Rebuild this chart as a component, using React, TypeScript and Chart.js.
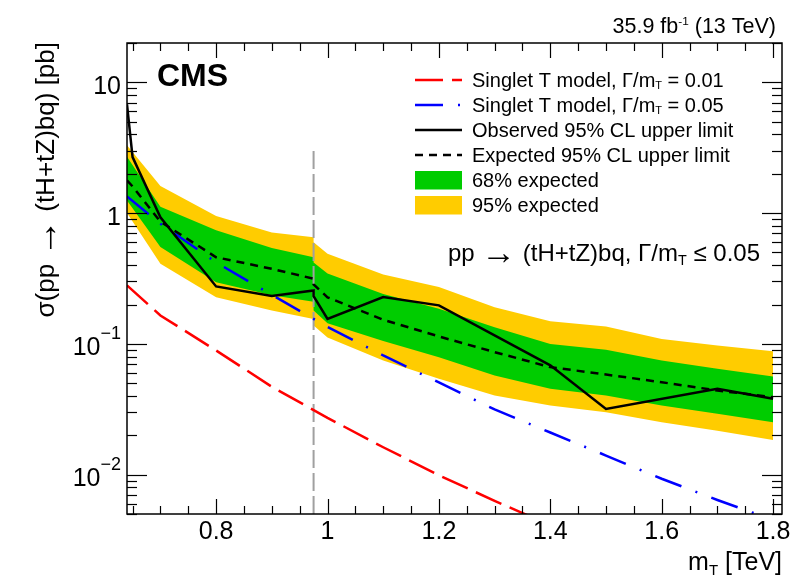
import { useEffect, useRef } from 'react';
import { Chart, registerables } from 'chart.js';

Chart.register(...registerables);

// ---------------- data ----------------
const bandMass = [0.64, 0.7, 0.8, 0.9, 0.975, 0.975, 1.0, 1.1, 1.2, 1.3, 1.4, 1.5, 1.6, 1.7, 1.8];
const band95Up = [3.3, 1.61, 0.95, 0.71, 0.655, 0.6, 0.489, 0.34, 0.272, 0.191, 0.149, 0.136, 0.109, 0.097, 0.088];
const band68Up = [2.7, 1.12, 0.74, 0.54, 0.46, 0.42, 0.345, 0.241, 0.186, 0.134, 0.1, 0.09, 0.0746, 0.0645, 0.0564];
const band68Down = [1.25, 0.55, 0.296, 0.235, 0.21, 0.18, 0.144, 0.105, 0.079, 0.0573, 0.0453, 0.0403, 0.0338, 0.0292, 0.0252];
const band95Down = [1.0, 0.41, 0.227, 0.18, 0.155, 0.138, 0.112, 0.0746, 0.054, 0.0403, 0.0338, 0.03, 0.0252, 0.0217, 0.0184];

const expMass = [0.64, 0.65, 0.7, 0.8, 0.9, 0.975, 0.975, 1.0, 1.1, 1.2, 1.3, 1.4, 1.5, 1.6, 1.7, 1.8];
const expLimit = [1.78, 1.6, 0.86, 0.46, 0.375, 0.315, 0.285, 0.227, 0.153, 0.114, 0.0865, 0.0664, 0.0583, 0.0509, 0.044, 0.0391];

const obsMass = [0.64, 0.65, 0.7, 0.8, 0.9, 0.975, 0.975, 1.0, 1.1, 1.2, 1.4, 1.5, 1.7, 1.8];
const obsLimit = [6.8, 2.68, 0.93, 0.275, 0.232, 0.256, 0.232, 0.155, 0.228, 0.197, 0.0685, 0.0318, 0.0453, 0.038];

const w001Mass = [0.64, 0.7, 0.8, 0.9, 1.0, 1.1, 1.2, 1.3, 1.4];
const w001Xsec = [0.28, 0.165, 0.089, 0.047, 0.0272, 0.0162, 0.0099, 0.0063, 0.0041];

const w005Mass = [0.64, 0.7, 0.8, 0.9, 1.0, 1.1, 1.2, 1.3, 1.4, 1.5, 1.6, 1.7, 1.8];
const w005Xsec = [1.34, 0.83, 0.42, 0.237, 0.135, 0.0815, 0.0507, 0.0315, 0.021, 0.014, 0.0093, 0.0064, 0.0045];

const switchMass = [0.975, 0.975];
const switchRange = [0.005, 3.0];

const xTickValues = [0.8, 1.0, 1.2, 1.4, 1.6, 1.8];
const xTickLabels = ['0.8', '1', '1.2', '1.4', '1.6', '1.8'];
const yTickValues = [10, 1, 0.1, 0.01];
const yTickLabels = ['10', '1', '10^{\u22121}', '10^{\u22122}'];

const legendLabels = [
  'Singlet T model, \u0393/m_T = 0.01',
  'Singlet T model, \u0393/m_T = 0.05',
  'Observed 95% CL upper limit',
  'Expected 95% CL upper limit',
  '68% expected',
  '95% expected',
];

const yTitle = '\u03c3(pp \u2192 (tH+tZ)bq) [pb]';
const xTitle = 'm_T [TeV]';
const processLabel = 'pp \u2192 (tH+tZ)bq, \u0393/m_T \u2264 0.05';
const lumiLabel = '35.9 fb^{-1} (13 TeV)';
const expLabel = 'CMS';

// ---------------- styles ----------------
const FONT = '"Liberation Sans", Arial, Helvetica, sans-serif';
const YELLOW = '#FFCC00';
const GREEN = '#00CC00';
const RED = '#FF0000';
const BLUE = '#0000FF';
const GRAY = '#A0A0A0';
const DASH_RED = [28, 9];
const DASH_BLUE = [28, 15, 2, 15];
const DASH_EXP = [8, 6];
const DASH_GRAY = [18, 5];

const pts = (xs: number[], ys: number[]) => xs.map((x, i) => ({ x, y: ys[i] }));

type Seg = { t: string; k: number };
function parseRich(s: string): Seg[] {
  const segs: Seg[] = [];
  let buf = '';
  const flush = () => { if (buf) segs.push({ t: buf, k: 0 }); buf = ''; };
  for (let i = 0; i < s.length; i++) {
    const c = s[i];
    if (c === '_') {
      flush();
      segs.push({ t: s[i + 1], k: -1 });
      i++;
    } else if (c === '^' && s[i + 1] === '{') {
      flush();
      const j = s.indexOf('}', i);
      segs.push({ t: s.slice(i + 2, j), k: 1 });
      i = j;
    } else if (c === '\u2192') {
      flush();
      segs.push({ t: c, k: 2 });
    } else buf += c;
  }
  flush();
  return segs;
}

type RichOpt = { supScale?: number; supDy?: number; subScale?: number; subDy?: number; weight?: string };
function drawRich(ctx: CanvasRenderingContext2D, s: string, x: number, y: number, size: number, align: string, o: RichOpt = {}) {
  const supScale = o.supScale ?? 0.6, supDy = o.supDy ?? -0.4, subScale = o.subScale ?? 0.62, subDy = o.subDy ?? 0.15;
  const weight = o.weight ?? 'normal';
  const segs = parseRich(s);
  const scaleFor = (k: number) => (k === 0 ? 1 : k === 1 ? supScale : k === -1 ? subScale : 1.45);
  const fontFor = (k: number) => `${weight} ${size * scaleFor(k)}px ${FONT}`;
  let w = 0;
  for (const sg of segs) { ctx.font = fontFor(sg.k); w += ctx.measureText(sg.t).width; }
  let cx = align === 'right' ? x - w : align === 'center' ? x - w / 2 : x;
  ctx.textAlign = 'left';
  ctx.textBaseline = 'alphabetic';
  for (const sg of segs) {
    ctx.font = fontFor(sg.k);
    const dy = sg.k === -1 ? size * subDy : sg.k === 1 ? size * supDy : sg.k === 2 ? size * 0.13 : 0;
    ctx.fillText(sg.t, cx, y + dy);
    cx += ctx.measureText(sg.t).width;
  }
}

function line(ctx: CanvasRenderingContext2D, x1: number, y1: number, x2: number, y2: number) {
  ctx.beginPath(); ctx.moveTo(x1, y1); ctx.lineTo(x2, y2); ctx.stroke();
}

const decorPlugin = {
  id: 'decor',
  beforeDraw(chart: any) {
    const ctx = chart.ctx;
    ctx.save(); ctx.fillStyle = '#fff'; ctx.fillRect(0, 0, chart.width, chart.height); ctx.restore();
  },
  afterDraw(chart: any) {
    const ctx: CanvasRenderingContext2D = chart.ctx;
    const xs = chart.scales.x, ys = chart.scales.y;
    const { left, right, top, bottom } = chart.chartArea;
    ctx.save();
    ctx.fillStyle = '#000';
    ctx.strokeStyle = '#000';
    ctx.setLineDash([]);
    // x ticks
    ctx.lineWidth = 1.2;
    for (let i = 13; i <= 36; i++) {
      const v = i * 0.05;
      const px = Math.round(xs.getPixelForValue(v)) + 0.5;
      const len = i % 4 === 0 ? 15 : 8;
      line(ctx, px, bottom, px, bottom - len);
      line(ctx, px, top, px, top + len);
    }
    // y ticks
    for (let d = -3; d <= 1; d++) {
      for (let k = 1; k <= 9; k++) {
        const v = k * Math.pow(10, d);
        if (v < 0.005 - 1e-12 || v > 20 + 1e-9) continue;
        const py = Math.round(ys.getPixelForValue(v)) + 0.5;
        const len = k === 1 ? 20 : 10;
        line(ctx, left, py, left + len, py);
        line(ctx, right, py, right - len, py);
      }
    }
    // frame
    ctx.lineWidth = 1.5;
    ctx.strokeRect(left, top, right - left, bottom - top);
    // x tick labels
    xTickValues.forEach((v, i) => {
      drawRich(ctx, xTickLabels[i], xs.getPixelForValue(v), bottom + 25, 25, 'center');
    });
    // y tick labels
    yTickValues.forEach((v, i) => {
      drawRich(ctx, yTickLabels[i], left - 6, ys.getPixelForValue(v) + 11.5, 25, 'right', { supScale: 0.72, supDy: -0.66 });
    });
    // axis titles
    drawRich(ctx, xTitle, right, 570, 25, 'right', { subScale: 0.6, subDy: 0.2 });
    ctx.save();
    ctx.translate(54, top - 1);
    ctx.rotate(-Math.PI / 2);
    drawRich(ctx, yTitle, 0, 0, 26, 'right');
    ctx.restore();
    // CMS + lumi
    drawRich(ctx, expLabel, 157, 86, 32, 'left', { weight: 'bold' });
    drawRich(ctx, lumiLabel, 776, 33, 21.5, 'right', { supScale: 0.55, supDy: -0.36 });
    // process label
    drawRich(ctx, processLabel, 760, 261, 24, 'right', { subScale: 0.6, subDy: 0.15 });
    // legend
    const lx1 = 415, lx2 = 462, tx = 472;
    const rows = [80, 105, 130, 155, 180, 205];
    const styles = [
      { c: RED, d: DASH_RED }, { c: BLUE, d: DASH_BLUE }, { c: '#000', d: [] as number[] }, { c: '#000', d: DASH_EXP },
    ];
    styles.forEach((s, i) => {
      ctx.strokeStyle = s.c; ctx.lineWidth = 2.5; ctx.setLineDash(s.d);
      line(ctx, lx1, rows[i], lx2, rows[i]);
    });
    ctx.setLineDash([]);
    ctx.fillStyle = GREEN; ctx.fillRect(lx1, rows[4] - 9, lx2 - lx1, 18.5);
    ctx.fillStyle = YELLOW; ctx.fillRect(lx1, rows[5] - 9, lx2 - lx1, 18.5);
    ctx.fillStyle = '#000';
    legendLabels.forEach((t, i) => drawRich(ctx, t, tx, rows[i] + 7, 20, 'left', { subScale: 0.55, subDy: 0.1 }));
    ctx.restore();
  },
};

export default function App() {
  const ref = useRef<HTMLCanvasElement>(null);
  useEffect(() => {
    if (!ref.current) return;
    const common = { pointRadius: 0, pointHoverRadius: 0, tension: 0, clip: 0 };
    const chart = new Chart(ref.current, {
      type: 'line',
      data: {
        datasets: [
          { ...common, label: '95% up', data: pts(bandMass, band95Up), borderWidth: 0, borderColor: YELLOW, backgroundColor: YELLOW, fill: '+1', order: 20 },
          { ...common, label: '95% down', data: pts(bandMass, band95Down), borderWidth: 0, borderColor: YELLOW, backgroundColor: YELLOW, fill: false, order: 19 },
          { ...common, label: '68% up', data: pts(bandMass, band68Up), borderWidth: 0, borderColor: GREEN, backgroundColor: GREEN, fill: '+1', order: 18 },
          { ...common, label: '68% down', data: pts(bandMass, band68Down), borderWidth: 0, borderColor: GREEN, backgroundColor: GREEN, fill: false, order: 17 },
          { ...common, label: 'switch', data: pts(switchMass, switchRange), borderWidth: 2, borderColor: GRAY, borderDash: DASH_GRAY, fill: false, order: 6 },
          { ...common, label: legendLabels[0], data: pts(w001Mass, w001Xsec), borderWidth: 2.5, borderColor: RED, borderDash: DASH_RED, fill: false, order: 5 },
          { ...common, label: legendLabels[1], data: pts(w005Mass, w005Xsec), borderWidth: 2.5, borderColor: BLUE, borderDash: DASH_BLUE, fill: false, order: 4 },
          { ...common, label: legendLabels[3], data: pts(expMass, expLimit), borderWidth: 2.5, borderColor: '#000', borderDash: DASH_EXP, fill: false, order: 3 },
          { ...common, label: legendLabels[2], data: pts(obsMass, obsLimit), borderWidth: 2.5, borderColor: '#000', fill: false, order: 2 },
        ] as any,
      },
      options: {
        animation: false,
        responsive: false,
        devicePixelRatio: 1,
        layout: { padding: { left: 127, right: 22, top: 43, bottom: 65 } },
        scales: {
          x: { type: 'linear', min: 0.64, max: 1.816, display: false },
          y: { type: 'logarithmic', min: 0.005, max: 20, display: false },
        },
        plugins: { legend: { display: false }, tooltip: { enabled: false } },
        events: [],
      } as any,
      plugins: [decorPlugin],
    });
    return () => chart.destroy();
  }, []);
  return (
    <canvas ref={ref} width={804} height={579} style={{ position: 'absolute', left: 0, top: 0, display: 'block' }} />
  );
}
